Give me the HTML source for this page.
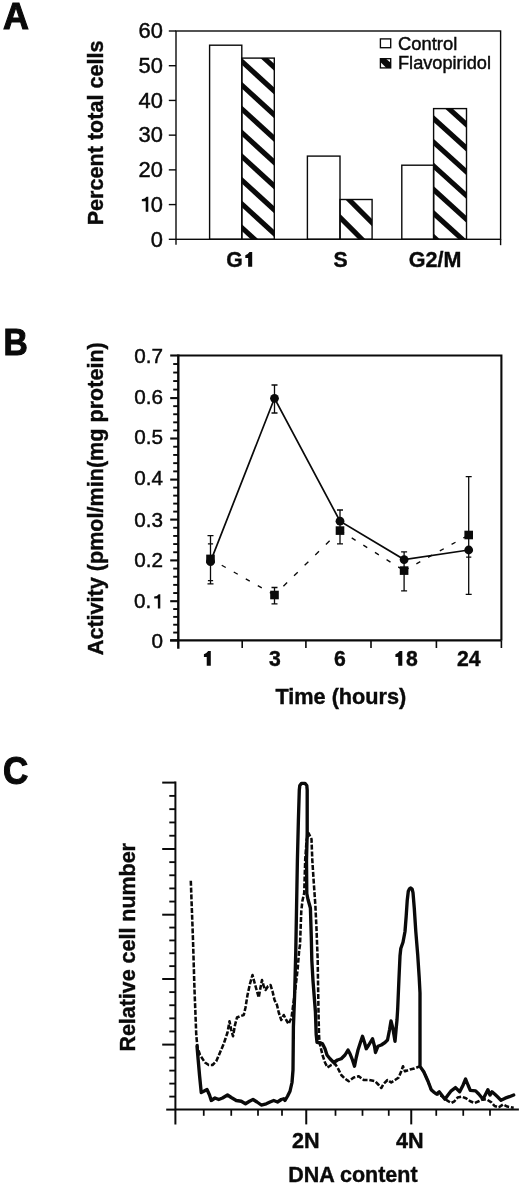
<!DOCTYPE html>
<html><head><meta charset="utf-8"><title>Figure</title>
<style>
html,body{margin:0;padding:0;background:#fff;}
body{width:520px;height:1183px;overflow:hidden;}
text.reg{stroke:#0a0a0a;stroke-width:0.45px;}
text[font-weight="700"]{stroke:#0a0a0a;stroke-width:0.4px;}
text.big{stroke-width:1.1px;}
svg{display:block;filter:blur(0.35px);font-family:"Liberation Sans",sans-serif;fill:#0a0a0a;}
</style></head>
<body>
<svg width="520" height="1183" viewBox="0 0 520 1183">
<rect x="0" y="0" width="520" height="1183" fill="#fff"/>
<g id="panelA">
<text class="big" x="2.9" y="29.1" font-size="36.8" font-weight="700" textLength="25.9" lengthAdjust="spacingAndGlyphs">A</text>
<text transform="translate(102.9,225.3) rotate(-90)" font-size="21.6" font-weight="700">Percent total cells</text>
<rect x="209.6" y="45.2" width="32.20" height="194.10" fill="none" stroke="#0a0a0a" stroke-width="1.4"/>
<clipPath id="cb1"><rect x="241.8" y="58.1" width="32.50" height="181.20"/></clipPath>
<g clip-path="url(#cb1)" stroke="#0a0a0a" stroke-width="5.1" fill="none">
<line x1="237.80" y1="10.25" x2="278.30" y2="47.19"/>
<line x1="237.80" y1="34.00" x2="278.30" y2="70.94"/>
<line x1="237.80" y1="57.75" x2="278.30" y2="94.69"/>
<line x1="237.80" y1="81.50" x2="278.30" y2="118.44"/>
<line x1="237.80" y1="105.25" x2="278.30" y2="142.19"/>
<line x1="237.80" y1="129.00" x2="278.30" y2="165.94"/>
<line x1="237.80" y1="152.75" x2="278.30" y2="189.69"/>
<line x1="237.80" y1="176.50" x2="278.30" y2="213.44"/>
<line x1="237.80" y1="200.25" x2="278.30" y2="237.19"/>
<line x1="237.80" y1="224.00" x2="278.30" y2="260.94"/>
</g>
<rect x="241.8" y="58.1" width="32.50" height="181.20" fill="none" stroke="#0a0a0a" stroke-width="1.4"/>
<rect x="307.4" y="156.1" width="32.60" height="83.20" fill="none" stroke="#0a0a0a" stroke-width="1.4"/>
<clipPath id="cb3"><rect x="340.0" y="199.5" width="32.10" height="39.80"/></clipPath>
<g clip-path="url(#cb3)" stroke="#0a0a0a" stroke-width="5.1" fill="none">
<line x1="336.00" y1="159.80" x2="376.10" y2="199.90"/>
<line x1="336.00" y1="186.60" x2="376.10" y2="226.70"/>
<line x1="336.00" y1="213.40" x2="376.10" y2="253.50"/>
<line x1="336.00" y1="240.20" x2="376.10" y2="280.30"/>
</g>
<rect x="340.0" y="199.5" width="32.10" height="39.80" fill="none" stroke="#0a0a0a" stroke-width="1.4"/>
<rect x="401.8" y="165.2" width="31.80" height="74.10" fill="none" stroke="#0a0a0a" stroke-width="1.4"/>
<clipPath id="cb5"><rect x="433.6" y="108.6" width="32.90" height="130.70"/></clipPath>
<g clip-path="url(#cb5)" stroke="#0a0a0a" stroke-width="5.1" fill="none">
<line x1="429.60" y1="67.48" x2="470.50" y2="104.49"/>
<line x1="429.60" y1="91.18" x2="470.50" y2="128.19"/>
<line x1="429.60" y1="114.88" x2="470.50" y2="151.89"/>
<line x1="429.60" y1="138.58" x2="470.50" y2="175.59"/>
<line x1="429.60" y1="162.28" x2="470.50" y2="199.29"/>
<line x1="429.60" y1="185.98" x2="470.50" y2="222.99"/>
<line x1="429.60" y1="209.68" x2="470.50" y2="246.69"/>
<line x1="429.60" y1="233.38" x2="470.50" y2="270.39"/>
</g>
<rect x="433.6" y="108.6" width="32.90" height="130.70" fill="none" stroke="#0a0a0a" stroke-width="1.4"/>
<rect x="176.0" y="31.0" width="324.60" height="208.30" fill="none" stroke="#0a0a0a" stroke-width="1.4"/>
<line x1="176.0" y1="239.3" x2="176.0" y2="244.8" stroke="#0a0a0a" stroke-width="1.4"/>
<line x1="500.6" y1="239.3" x2="500.6" y2="245.2" stroke="#0a0a0a" stroke-width="1.4"/>
<line x1="168.8" y1="239.30" x2="176.0" y2="239.30" stroke="#0a0a0a" stroke-width="1.4"/>
<text class="reg" x="162.9" y="246.50" font-size="21.9" text-anchor="end">0</text>
<line x1="168.8" y1="204.58" x2="176.0" y2="204.58" stroke="#0a0a0a" stroke-width="1.4"/>
<text class="reg" x="162.9" y="211.78" font-size="21.9" text-anchor="end">0</text>
<path d="M148.30 211.78 L148.30 196.72 L146.62 196.72 Q145.07 198.98 141.84 199.28 L141.84 201.24 L145.72 201.24 L145.72 211.78 Z" fill="#0a0a0a"/>
<line x1="168.8" y1="169.87" x2="176.0" y2="169.87" stroke="#0a0a0a" stroke-width="1.4"/>
<text class="reg" x="162.9" y="177.07" font-size="21.9" text-anchor="end">20</text>
<line x1="168.8" y1="135.15" x2="176.0" y2="135.15" stroke="#0a0a0a" stroke-width="1.4"/>
<text class="reg" x="162.9" y="142.35" font-size="21.9" text-anchor="end">30</text>
<line x1="168.8" y1="100.43" x2="176.0" y2="100.43" stroke="#0a0a0a" stroke-width="1.4"/>
<text class="reg" x="162.9" y="107.63" font-size="21.9" text-anchor="end">40</text>
<line x1="168.8" y1="65.72" x2="176.0" y2="65.72" stroke="#0a0a0a" stroke-width="1.4"/>
<text class="reg" x="162.9" y="72.92" font-size="21.9" text-anchor="end">50</text>
<line x1="168.8" y1="31.00" x2="176.0" y2="31.00" stroke="#0a0a0a" stroke-width="1.4"/>
<text class="reg" x="162.9" y="38.20" font-size="21.9" text-anchor="end">60</text>
<text x="226.3" y="266.8" font-size="21.2" font-weight="700">G</text>
<path d="M252.20 266.80 L252.20 251.96 L249.55 251.96 Q247.44 254.93 245.31 255.22 L245.31 257.90 L248.13 257.90 L248.13 266.80 Z" fill="#0a0a0a"/>
<text x="340.6" y="266.8" font-size="21.2" font-weight="700" text-anchor="middle">S</text>
<text x="435.1" y="266.8" font-size="21.5" font-weight="700" text-anchor="middle">G2/M</text>
<rect x="380.4" y="38.9" width="10.3" height="8.8" fill="#fff" stroke="#0a0a0a" stroke-width="1.35"/>
<rect x="380.4" y="58.7" width="10.3" height="9.2" fill="#fff" stroke="#0a0a0a" stroke-width="1.35"/>
<path d="M380.4 58.7 L386.0 58.7 L390.7 62.7 L390.7 67.9 L386.4 67.9 L380.4 62.1 Z" fill="#0a0a0a"/>
<text class="reg" x="398" y="50.1" font-size="18.4">Control</text>
<text class="reg" x="398" y="69.4" font-size="18.5" textLength="93" lengthAdjust="spacingAndGlyphs">Flavopiridol</text>
</g>
<g id="panelB">
<text class="big" x="3.4" y="354.8" font-size="36.9" font-weight="700" textLength="24.3" lengthAdjust="spacingAndGlyphs">B</text>
<text transform="translate(103.3,655.2) rotate(-90)" font-size="21.9" font-weight="700" textLength="313" lengthAdjust="spacingAndGlyphs">Activity (pmol/min(mg protein)</text>
<path d="M178.3 355.5 H501.4 V640.4" fill="none" stroke="#0a0a0a" stroke-width="2.1"/>
<path d="M178.3 354.5 V648.8 M170.10000000000002 640.4 H501.4" fill="none" stroke="#0a0a0a" stroke-width="2.4"/>
<line x1="170.2" y1="640.40" x2="178.3" y2="640.40" stroke="#0a0a0a" stroke-width="2.1"/>
<text class="reg" x="162.9" y="648.20" font-size="20.7" text-anchor="end">0</text>
<line x1="173.2" y1="632.56" x2="178.3" y2="632.56" stroke="#0a0a0a" stroke-width="1.9"/>
<line x1="173.2" y1="624.72" x2="178.3" y2="624.72" stroke="#0a0a0a" stroke-width="1.9"/>
<line x1="173.2" y1="616.88" x2="178.3" y2="616.88" stroke="#0a0a0a" stroke-width="1.9"/>
<line x1="173.2" y1="609.04" x2="178.3" y2="609.04" stroke="#0a0a0a" stroke-width="1.9"/>
<line x1="170.2" y1="601.20" x2="178.3" y2="601.20" stroke="#0a0a0a" stroke-width="2.1"/>
<text class="reg" x="151.39" y="608.40" font-size="20.7" text-anchor="end">0.</text>
<path d="M160.30 608.40 L160.30 594.16 L158.71 594.16 Q157.25 596.29 154.19 596.58 L154.19 598.43 L157.86 598.43 L157.86 608.40 Z" fill="#0a0a0a"/>
<line x1="173.2" y1="593.04" x2="178.3" y2="593.04" stroke="#0a0a0a" stroke-width="1.9"/>
<line x1="173.2" y1="584.88" x2="178.3" y2="584.88" stroke="#0a0a0a" stroke-width="1.9"/>
<line x1="173.2" y1="576.72" x2="178.3" y2="576.72" stroke="#0a0a0a" stroke-width="1.9"/>
<line x1="173.2" y1="568.56" x2="178.3" y2="568.56" stroke="#0a0a0a" stroke-width="1.9"/>
<line x1="170.2" y1="560.40" x2="178.3" y2="560.40" stroke="#0a0a0a" stroke-width="2.1"/>
<text class="reg" x="162.9" y="567.40" font-size="20.7" text-anchor="end">0.2</text>
<line x1="173.2" y1="552.24" x2="178.3" y2="552.24" stroke="#0a0a0a" stroke-width="1.9"/>
<line x1="173.2" y1="544.08" x2="178.3" y2="544.08" stroke="#0a0a0a" stroke-width="1.9"/>
<line x1="173.2" y1="535.92" x2="178.3" y2="535.92" stroke="#0a0a0a" stroke-width="1.9"/>
<line x1="173.2" y1="527.76" x2="178.3" y2="527.76" stroke="#0a0a0a" stroke-width="1.9"/>
<line x1="170.2" y1="519.60" x2="178.3" y2="519.60" stroke="#0a0a0a" stroke-width="2.1"/>
<text class="reg" x="162.9" y="526.60" font-size="20.7" text-anchor="end">0.3</text>
<line x1="173.2" y1="511.60" x2="178.3" y2="511.60" stroke="#0a0a0a" stroke-width="1.9"/>
<line x1="173.2" y1="503.60" x2="178.3" y2="503.60" stroke="#0a0a0a" stroke-width="1.9"/>
<line x1="173.2" y1="495.60" x2="178.3" y2="495.60" stroke="#0a0a0a" stroke-width="1.9"/>
<line x1="173.2" y1="487.60" x2="178.3" y2="487.60" stroke="#0a0a0a" stroke-width="1.9"/>
<line x1="170.2" y1="479.60" x2="178.3" y2="479.60" stroke="#0a0a0a" stroke-width="2.1"/>
<text class="reg" x="162.9" y="485.40" font-size="20.7" text-anchor="end">0.4</text>
<line x1="173.2" y1="471.38" x2="178.3" y2="471.38" stroke="#0a0a0a" stroke-width="1.9"/>
<line x1="173.2" y1="463.16" x2="178.3" y2="463.16" stroke="#0a0a0a" stroke-width="1.9"/>
<line x1="173.2" y1="454.94" x2="178.3" y2="454.94" stroke="#0a0a0a" stroke-width="1.9"/>
<line x1="173.2" y1="446.72" x2="178.3" y2="446.72" stroke="#0a0a0a" stroke-width="1.9"/>
<line x1="170.2" y1="438.50" x2="178.3" y2="438.50" stroke="#0a0a0a" stroke-width="2.1"/>
<text class="reg" x="162.9" y="444.30" font-size="20.7" text-anchor="end">0.5</text>
<line x1="173.2" y1="430.42" x2="178.3" y2="430.42" stroke="#0a0a0a" stroke-width="1.9"/>
<line x1="173.2" y1="422.34" x2="178.3" y2="422.34" stroke="#0a0a0a" stroke-width="1.9"/>
<line x1="173.2" y1="414.26" x2="178.3" y2="414.26" stroke="#0a0a0a" stroke-width="1.9"/>
<line x1="173.2" y1="406.18" x2="178.3" y2="406.18" stroke="#0a0a0a" stroke-width="1.9"/>
<line x1="170.2" y1="398.10" x2="178.3" y2="398.10" stroke="#0a0a0a" stroke-width="2.1"/>
<text class="reg" x="162.9" y="403.50" font-size="20.7" text-anchor="end">0.6</text>
<line x1="173.2" y1="389.58" x2="178.3" y2="389.58" stroke="#0a0a0a" stroke-width="1.9"/>
<line x1="173.2" y1="381.06" x2="178.3" y2="381.06" stroke="#0a0a0a" stroke-width="1.9"/>
<line x1="173.2" y1="372.54" x2="178.3" y2="372.54" stroke="#0a0a0a" stroke-width="1.9"/>
<line x1="173.2" y1="364.02" x2="178.3" y2="364.02" stroke="#0a0a0a" stroke-width="1.9"/>
<line x1="170.2" y1="355.50" x2="178.3" y2="355.50" stroke="#0a0a0a" stroke-width="2.1"/>
<text class="reg" x="162.9" y="362.80" font-size="20.7" text-anchor="end">0.7</text>
<line x1="242.2" y1="640.4" x2="242.2" y2="648" stroke="#0a0a0a" stroke-width="1.6"/>
<line x1="305.9" y1="640.4" x2="305.9" y2="648" stroke="#0a0a0a" stroke-width="1.6"/>
<line x1="371.0" y1="640.4" x2="371.0" y2="648" stroke="#0a0a0a" stroke-width="1.6"/>
<line x1="436.4" y1="640.4" x2="436.4" y2="648" stroke="#0a0a0a" stroke-width="1.6"/>
<line x1="501.4" y1="640.4" x2="501.4" y2="648" stroke="#0a0a0a" stroke-width="1.6"/>
<text x="275.0" y="665.8" font-size="21.2" font-weight="700" text-anchor="middle">3</text>
<text x="340.0" y="665.8" font-size="21.2" font-weight="700" text-anchor="middle">6</text>
<text x="468.8" y="665.8" font-size="21.2" font-weight="700" text-anchor="middle">24</text>
<path d="M210.80 665.80 L210.80 650.96 L208.15 650.96 Q206.04 653.93 203.91 654.22 L203.91 656.90 L206.73 656.90 L206.73 665.80 Z" fill="#0a0a0a"/>
<path d="M402.30 665.80 L402.30 650.96 L399.65 650.96 Q397.54 653.93 395.41 654.22 L395.41 656.90 L398.23 656.90 L398.23 665.80 Z" fill="#0a0a0a"/>
<text x="406.0" y="665.8" font-size="21.2" font-weight="700">8</text>
<text x="275.4" y="704.2" font-size="21.7" font-weight="700">Time (hours)</text>
<path d="M210.5 535.6 V583.8 M207.5 535.6 H213.5 M207.5 583.8 H213.5 M207.9 543.8 H213.1 M207.9 580.6 H213.1" fill="none" stroke="#0a0a0a" stroke-width="1.3"/>
<path d="M274.5 385.0 V413.0 M271.5 385.0 H277.5 M271.5 413.0 H277.5" fill="none" stroke="#0a0a0a" stroke-width="1.3"/>
<path d="M274.5 587.5 V603.8 M271.5 587.5 H277.5 M271.5 603.8 H277.5" fill="none" stroke="#0a0a0a" stroke-width="1.3"/>
<path d="M340.0 510.0 V543.8 M337.0 510.0 H343.0 M337.0 543.8 H343.0" fill="none" stroke="#0a0a0a" stroke-width="1.3"/>
<path d="M404.1 551.8 V590.8 M401.1 551.8 H407.1 M401.1 590.8 H407.1" fill="none" stroke="#0a0a0a" stroke-width="1.3"/>
<path d="M468.7 476.6 V594.3 M465.7 476.6 H471.7 M465.7 594.3 H471.7 M466.09999999999997 557.2 H471.3" fill="none" stroke="#0a0a0a" stroke-width="1.3"/>
<polyline points="210.5,561.6 274.5,398.3 340.0,521.2 404.1,559.6 468.7,550.0" fill="none" stroke="#0a0a0a" stroke-width="1.7"/>
<line x1="210.5" y1="558.9" x2="274.5" y2="595.0" stroke="#0a0a0a" stroke-width="1.35" stroke-dasharray="4.6 9.2" stroke-dashoffset="0.9"/>
<line x1="274.5" y1="595.0" x2="340.0" y2="530.6" stroke="#0a0a0a" stroke-width="1.35" stroke-dasharray="5.2 9.7" stroke-dashoffset="2.4"/>
<line x1="340.0" y1="530.6" x2="404.1" y2="570.6" stroke="#0a0a0a" stroke-width="1.35" stroke-dasharray="4.6 9.1" stroke-dashoffset="-0.1"/>
<line x1="404.1" y1="570.6" x2="468.7" y2="535.0" stroke="#0a0a0a" stroke-width="1.35" stroke-dasharray="4.5 8.9" stroke-dashoffset="-0.6"/>
<circle cx="210.5" cy="561.6" r="4.4" fill="#0a0a0a"/>
<circle cx="274.5" cy="398.3" r="4.4" fill="#0a0a0a"/>
<circle cx="340.0" cy="521.2" r="4.4" fill="#0a0a0a"/>
<circle cx="404.1" cy="559.6" r="4.4" fill="#0a0a0a"/>
<circle cx="468.7" cy="550.0" r="4.4" fill="#0a0a0a"/>
<rect x="206.2" y="554.6" width="8.6" height="8.6" fill="#0a0a0a"/>
<rect x="270.2" y="590.7" width="8.6" height="8.6" fill="#0a0a0a"/>
<rect x="335.7" y="526.3000000000001" width="8.6" height="8.6" fill="#0a0a0a"/>
<rect x="399.8" y="566.3000000000001" width="8.6" height="8.6" fill="#0a0a0a"/>
<rect x="464.4" y="530.7" width="8.6" height="8.6" fill="#0a0a0a"/>
</g>
<g id="panelC">
<text class="big" x="2.9" y="783.5" font-size="38.2" font-weight="700" textLength="25.2" lengthAdjust="spacingAndGlyphs">C</text>
<text transform="translate(135.0,1051.6) rotate(-90)" font-size="21.45" font-weight="700">Relative cell number</text>
<path d="M175.4 781.6 V1124.6 M174.5 1109.6 H518.9" fill="none" stroke="#0a0a0a" stroke-width="2.0"/>
<line x1="166.2" y1="1109.6" x2="175.4" y2="1109.6" stroke="#0a0a0a" stroke-width="2.0"/>
<line x1="169.3" y1="1096.60" x2="175.4" y2="1096.60" stroke="#0a0a0a" stroke-width="1.85"/>
<line x1="169.3" y1="1083.60" x2="175.4" y2="1083.60" stroke="#0a0a0a" stroke-width="1.85"/>
<line x1="169.3" y1="1070.60" x2="175.4" y2="1070.60" stroke="#0a0a0a" stroke-width="1.85"/>
<line x1="169.3" y1="1057.60" x2="175.4" y2="1057.60" stroke="#0a0a0a" stroke-width="1.85"/>
<line x1="162.2" y1="1044.60" x2="175.4" y2="1044.60" stroke="#0a0a0a" stroke-width="2.0"/>
<line x1="169.3" y1="1031.48" x2="175.4" y2="1031.48" stroke="#0a0a0a" stroke-width="1.85"/>
<line x1="169.3" y1="1018.36" x2="175.4" y2="1018.36" stroke="#0a0a0a" stroke-width="1.85"/>
<line x1="169.3" y1="1005.24" x2="175.4" y2="1005.24" stroke="#0a0a0a" stroke-width="1.85"/>
<line x1="169.3" y1="992.12" x2="175.4" y2="992.12" stroke="#0a0a0a" stroke-width="1.85"/>
<line x1="162.2" y1="979.00" x2="175.4" y2="979.00" stroke="#0a0a0a" stroke-width="2.0"/>
<line x1="169.3" y1="966.14" x2="175.4" y2="966.14" stroke="#0a0a0a" stroke-width="1.85"/>
<line x1="169.3" y1="953.28" x2="175.4" y2="953.28" stroke="#0a0a0a" stroke-width="1.85"/>
<line x1="169.3" y1="940.42" x2="175.4" y2="940.42" stroke="#0a0a0a" stroke-width="1.85"/>
<line x1="169.3" y1="927.56" x2="175.4" y2="927.56" stroke="#0a0a0a" stroke-width="1.85"/>
<line x1="162.2" y1="914.70" x2="175.4" y2="914.70" stroke="#0a0a0a" stroke-width="2.0"/>
<line x1="169.3" y1="901.56" x2="175.4" y2="901.56" stroke="#0a0a0a" stroke-width="1.85"/>
<line x1="169.3" y1="888.42" x2="175.4" y2="888.42" stroke="#0a0a0a" stroke-width="1.85"/>
<line x1="169.3" y1="875.28" x2="175.4" y2="875.28" stroke="#0a0a0a" stroke-width="1.85"/>
<line x1="169.3" y1="862.14" x2="175.4" y2="862.14" stroke="#0a0a0a" stroke-width="1.85"/>
<line x1="162.2" y1="849.00" x2="175.4" y2="849.00" stroke="#0a0a0a" stroke-width="2.0"/>
<line x1="169.3" y1="835.72" x2="175.4" y2="835.72" stroke="#0a0a0a" stroke-width="1.85"/>
<line x1="169.3" y1="822.44" x2="175.4" y2="822.44" stroke="#0a0a0a" stroke-width="1.85"/>
<line x1="169.3" y1="809.16" x2="175.4" y2="809.16" stroke="#0a0a0a" stroke-width="1.85"/>
<line x1="169.3" y1="795.88" x2="175.4" y2="795.88" stroke="#0a0a0a" stroke-width="1.85"/>
<line x1="162.2" y1="782.60" x2="175.4" y2="782.60" stroke="#0a0a0a" stroke-width="2.0"/>
<line x1="203.75" y1="1109.6" x2="203.75" y2="1115.8" stroke="#0a0a0a" stroke-width="1.75"/>
<line x1="231.25" y1="1109.6" x2="231.25" y2="1115.8" stroke="#0a0a0a" stroke-width="1.75"/>
<line x1="258" y1="1109.6" x2="258" y2="1115.8" stroke="#0a0a0a" stroke-width="1.75"/>
<line x1="282" y1="1109.6" x2="282" y2="1115.8" stroke="#0a0a0a" stroke-width="1.75"/>
<line x1="306.25" y1="1109.6" x2="306.25" y2="1124.4" stroke="#0a0a0a" stroke-width="2.0"/>
<line x1="335.5" y1="1109.6" x2="335.5" y2="1115.8" stroke="#0a0a0a" stroke-width="1.75"/>
<line x1="362.5" y1="1109.6" x2="362.5" y2="1115.8" stroke="#0a0a0a" stroke-width="1.75"/>
<line x1="388.75" y1="1109.6" x2="388.75" y2="1115.8" stroke="#0a0a0a" stroke-width="1.75"/>
<line x1="411.25" y1="1109.6" x2="411.25" y2="1124.4" stroke="#0a0a0a" stroke-width="2.0"/>
<line x1="436.25" y1="1109.6" x2="436.25" y2="1115.8" stroke="#0a0a0a" stroke-width="1.75"/>
<line x1="463.25" y1="1109.6" x2="463.25" y2="1115.8" stroke="#0a0a0a" stroke-width="1.75"/>
<line x1="490" y1="1109.6" x2="490" y2="1115.8" stroke="#0a0a0a" stroke-width="1.75"/>
<text x="305.8" y="1147.8" font-size="21.6" font-weight="700" text-anchor="middle">2N</text>
<text x="409.8" y="1147.8" font-size="21.6" font-weight="700" text-anchor="middle">4N</text>
<text x="288.2" y="1181.8" font-size="21.5" font-weight="700">DNA content</text>
<polyline points="190.8,880.8 193,940 193.75,965 194.5,990 195.5,1015 196.25,1035 197.5,1047.5 200,1055 205,1062.5 208.75,1065 212.5,1065 216.25,1061.25 220,1052.5 223.75,1043.75 225,1040 227.5,1032.5 229.5,1021.25 231.25,1030 233,1036.25 235,1025 237,1017.5 240,1016.25 243.75,1015 245.5,1007.5 247.5,995 250,983.75 252.5,975 254.5,982.5 256.25,988.75 258.75,997.5 260.5,987.5 262,980 263.75,986.25 265.5,990 268,986.25 270.5,985 272.5,991.25 274.5,1000 277,1005 278.75,1012.5 281.25,1020 283.75,1015 286.25,1020 288.5,1024 291.5,1017.7 295.4,988.5 297.7,968.5 299.2,950 300,945 300.6,929 301.3,911 302.4,901 304.2,893 305.2,860 306.6,840 308.5,833 311.5,839 312.3,860 313.8,883 315.4,906 316.5,929 317.7,960 318,980.8 318.5,1011.5 319,1034.6 319.5,1042.5 322.5,1055 325,1062.5 327.5,1067.5 331.25,1065 335,1063.75 337.5,1067.5 341.25,1075 345,1078.75 348.75,1081.25 353.75,1077.5 358.75,1076.25 363.75,1080 368.75,1080 375,1081.25 378.75,1085 381.25,1088 383.75,1083.75 387.5,1080 391.25,1082.5 395,1080 398.75,1077.5 401.25,1071.25 403,1066.25 405,1071.25 410,1069.5 414.2,1068.6 419.5,1066.4 423.75,1071.7 428,1081.25 431.2,1089.7 434.3,1092.5 436.4,1094 441.7,1096 447,1100.3 451.25,1103 454.4,1101.3 457.6,1097.5 461.8,1096.7 466,1098.2 470.3,1101.3 474.5,1103 478.75,1101.3 483,1099.2 487.2,1099.7 491.4,1102.4 494.6,1106 498.85,1107.3 503,1104.5 507.3,1106.6 513.7,1107.7" fill="none" stroke="#0a0a0a" stroke-width="2.55" stroke-dasharray="5 1.8" stroke-linejoin="round"/>
<polyline points="197,1046 198.2,1060 199.6,1076 201.25,1092.5 203.75,1091.25 207,1089.5 209.5,1095 211.25,1100.5 215,1098 218.75,1099.5 222.5,1098 227.5,1095 231.25,1097.5 236.25,1100.5 241.25,1101.25 245.5,1103.75 249.5,1101.25 253,1099.5 257,1102 261.25,1105 266.25,1103.75 270,1102 273.75,1100.5 277.5,1102 281.25,1099.5 283.75,1098.75 285,1100.5 287.5,1096.25 290,1091.25 292,1082.5 293,1070 293.2,1050 293.4,1027 294.6,996 295.8,950 297.4,860 298.4,820 299.3,790 299.8,785.5 301.5,783.4 305,783.4 306.8,785.5 307.2,790 307.2,833 306.5,860 306.8,893.5 308.0,899.5 310.4,908 311.3,937 311.8,960 313,980.8 315.4,1011.5 316.2,1034.6 317,1042.3 320.8,1043 322.5,1043.75 325,1048.75 327,1055 330,1058.75 333.75,1062.5 337.5,1060 341.25,1058.75 345,1055 348,1050 350,1053.75 352.5,1060 354.5,1066.25 356.25,1057.5 358,1050 360,1043.75 362.5,1036.25 364.5,1042.5 366.25,1048.75 368.75,1045 372.5,1038.75 374.5,1046.25 375.5,1052.5 378,1046.25 381.25,1045 385,1042.5 387.5,1040 389.5,1030 391,1021 393,1029 395,1041.25 396.25,1027.5 397,1020 397.7,1008.5 399,977.7 400,956 400.8,948.5 403,942.3 405,931.5 406.2,916 407.2,900.8 408.3,891.2 409.4,888.9 410.8,888.0 412.1,889.0 413,892.6 414.3,908.5 415.8,931.5 417.7,954.6 419.2,977.7 420,993 420,1030 420,1066.4 423.75,1071.7 428,1081.25 431.2,1089.7 434.3,1092.5 436.4,1094 439.2,1091.8 441.7,1095 444.9,1099.2 448,1095 451.25,1090.8 455.5,1087.6 459.7,1091.8 462.9,1085.5 465.6,1079 468.2,1085.5 470.3,1090.3 475.6,1090.8 478.75,1094 483,1099.2 485.7,1094 487.85,1089.7 490,1095 492,1091.8 494.6,1094 497.8,1097 501,1100.3 505.2,1098.2 509.4,1096.7 513.7,1095" fill="none" stroke="#0a0a0a" stroke-width="3.35" stroke-linejoin="round" stroke-linecap="round"/>
</g>
</svg>
</body></html>
